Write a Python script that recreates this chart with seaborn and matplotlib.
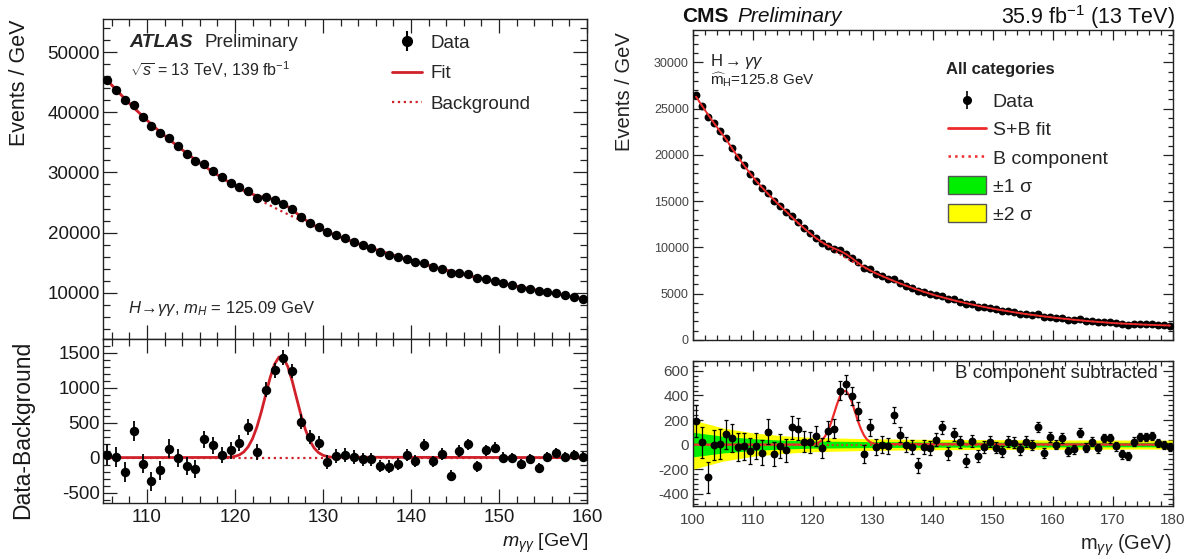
import numpy as np
import pandas as pd
import matplotlib
matplotlib.use("Agg")
import matplotlib.pyplot as plt
import seaborn as sns
from matplotlib.lines import Line2D
from matplotlib.patches import Patch
from matplotlib.legend_handler import HandlerTuple
from matplotlib.ticker import MultipleLocator

# ---------------- ATLAS (left) ----------------
atlas_mass = np.arange(105.5, 160.0, 1.0)
atlas_data = [45340, 43746, 42026, 41148, 39275, 37660, 36559, 35649, 34340, 33080,
              31940, 31337, 30261, 29167, 28304, 27515, 26911, 25753, 25864, 25383,
              24830, 23939, 22535, 21656, 20936, 20040, 19553, 19013, 18443, 17884,
              17375, 16805, 16332, 15917, 15615, 15105, 14918, 14282, 14002, 13308,
              13295, 13042, 12389, 12289, 12008, 11550, 11234, 10851, 10632, 10224,
              10110, 9878, 9544, 9303, 9010]
atlas_bkg = [45300, 43736, 42226, 40768, 39360, 38000, 36739, 35519, 34340, 33200,
             32100, 31077, 30086, 29127, 28199, 27300, 26471, 25668, 24889, 24133,
             23400, 22699, 22020, 21361, 20721, 20100, 19528, 18973, 18433, 17909,
             17400, 16925, 16462, 16012, 15575, 15150, 14738, 14337, 13947, 13568,
             13200, 12852, 12514, 12184, 11863, 11550, 11244, 10946, 10657, 10374,
             10100, 9813, 9534, 9263, 9000]
atlas_resid = [40, 10, -200, 380, -85, -340, -180, 130, 0, -120,
               -160, 260, 175, 40, 105, 215, 440, 85, 975, 1250,
               1430, 1240, 515, 295, 215, -60, 25, 40, 10, -25,
               -25, -120, -130, -95, 40, -45, 180, -55, 55, -260,
               95, 190, -125, 105, 145, 0, -10, -95, -25, -150,
               10, 65, 10, 40, 10]
atlas_err = [149, 146, 144, 141, 139, 136, 134, 132, 130, 128,
             125, 123, 121, 119, 118, 116, 114, 112, 110, 109,
             107, 105, 104, 102, 101, 99, 98, 96, 95, 94,
             92, 91, 90, 89, 87, 86, 85, 84, 83, 82,
             80, 79, 78, 77, 76, 75, 74, 73, 72, 71,
             70, 69, 68, 67, 66]
# signal part of the fit at bin centres 119.5 ... 130.5
atlas_sig_centres = [7, 39, 155, 441, 905, 1338, 1429, 1100, 611, 245, 71, 15]
atlas_sig_first_bin = 14
# fit curve in the lower panel
atlas_fit_x = [105, 119, 119.5, 120, 120.5, 121, 121.5, 122, 122.5, 123, 123.5, 124, 124.5,
               125, 125.5, 126, 126.5, 127, 127.5, 128, 128.5, 129, 129.5, 130, 130.5, 131, 160]
atlas_fit_y = [0, 3, 7, 18, 39, 81, 155, 272, 441, 658, 905, 1146, 1338,
               1441, 1429, 1306, 1100, 854, 611, 403, 245, 137, 71, 34, 15, 6, 0]

# ---------------- CMS (right) ----------------
cms_mass = np.arange(100.5, 180.0, 1.0)
cms_data = [26495, 25328, 24088, 23434, 22555, 21785, 20769, 19753, 18860, 17968,
            17190, 16417, 15900, 15061, 14494, 13855, 13404, 12788, 12104, 11547,
            11070, 10507, 10193, 9784, 9683, 9340, 8887, 8424, 7745, 7644,
            7180, 6912, 6620, 6610, 6195, 5870, 5618, 5246, 5182, 4972,
            4840, 4764, 4384, 4375, 4152, 3850, 3868, 3607, 3550, 3468,
            3295, 3154, 3126, 3012, 2857, 2825, 2708, 2768, 2476, 2532,
            2390, 2375, 2197, 2146, 2217, 2035, 2032, 1926, 1961, 1907,
            1795, 1697, 1649, 1737, 1746, 1710, 1697, 1619, 1582, 1540]
cms_bkg = [26300, 25308, 24353, 23434, 22550, 21700, 20714, 19773, 18875, 18018,
           17200, 16482, 15795, 15136, 14504, 13900, 13264, 12658, 12079, 11527,
           11000, 10532, 10083, 9654, 9243, 8850, 8492, 8149, 7820, 7504,
           7200, 6912, 6635, 6370, 6115, 5870, 5638, 5416, 5202, 4997,
           4800, 4624, 4454, 4290, 4132, 3980, 3838, 3702, 3570, 3443,
           3320, 3209, 3101, 2997, 2897, 2800, 2713, 2628, 2546, 2467,
           2390, 2320, 2252, 2186, 2122, 2060, 2007, 1956, 1906, 1857,
           1810, 1777, 1744, 1712, 1681, 1650, 1627, 1604, 1582, 1560]
cms_resid = [195, 20, -265, 0, 5, 85, 55, -20, -15, -50,
             -10, -65, 105, -75, -10, -45, 140, 130, 25, 20,
             70, -25, 110, 130, 440, 490, 395, 275, -75, 140,
             -20, 0, -15, 240, 80, 0, -20, -170, -20, -25,
             40, 140, -70, 85, 20, -130, 30, -95, -20, 25,
             -25, -55, 25, 15, -40, 25, -5, 140, -70, 65,
             0, 55, -55, -40, 95, -25, 25, -30, 55, 50,
             -15, -80, -95, 25, 65, 60, 70, 15, 0, -20]
cms_err = [130, 127, 125, 122, 120, 118, 115, 112, 110, 107,
           105, 103, 101, 98, 96, 94, 92, 90, 88, 86,
           84, 82, 80, 79, 77, 75, 74, 72, 71, 69,
           68, 67, 65, 64, 63, 61, 60, 59, 58, 57,
           55, 54, 53, 52, 51, 50, 50, 49, 48, 47,
           46, 45, 45, 44, 43, 42, 42, 41, 40, 40,
           39, 39, 38, 37, 37, 36, 36, 35, 35, 34,
           34, 34, 33, 33, 33, 32, 32, 32, 32, 32]
# signal part of the S+B fit at bin centres 121.5 ... 130.5
cms_sig_centres = [36, 113, 251, 394, 437, 343, 190, 75, 21, 4]
cms_sig_first_bin = 21
cms_fit_x = [100, 120, 120.5, 121, 121.5, 122, 122.5, 123, 123.5, 124, 124.5, 125,
             125.5, 126, 126.5, 127, 127.5, 128, 128.5, 129, 129.5, 130, 130.5, 180]
cms_fit_y = [0, 0, 8, 18, 36, 67, 113, 176, 251, 328, 394, 433,
             437, 404, 343, 267, 190, 125, 75, 41, 21, 10, 4, 0]
cms_band_x = [100, 105, 110, 115, 120, 130, 140, 150, 160, 170, 180]
cms_band_1sig = [100, 68, 48, 36, 29, 24, 21, 20, 19, 18, 18]
cms_band_2sig = [200, 135, 95, 72, 58, 47, 42, 40, 38, 37, 36]

# ---------------- style ----------------
sns.set_theme(style="ticks")
plt.rcParams['font.family'] = ['Liberation Sans', 'DejaVu Sans']
plt.rcParams['mathtext.fontset'] = 'custom'
plt.rcParams['mathtext.rm'] = 'Liberation Sans'
plt.rcParams['mathtext.it'] = 'Liberation Sans:italic'
plt.rcParams['mathtext.bf'] = 'Liberation Sans:bold'
plt.rcParams['axes.unicode_minus'] = False

RED_A = '#d0202a'
RED_C = '#ee2b2b'

fig = plt.figure(figsize=(11.93, 5.6), dpi=100)
ax1 = fig.add_axes([0.0863, 0.3946, 0.4057, 0.5714])
ax2 = fig.add_axes([0.0863, 0.1018, 0.4057, 0.2929])
ax3 = fig.add_axes([0.5809, 0.3929, 0.4023, 0.5536])
ax4 = fig.add_axes([0.5809, 0.0964, 0.4023, 0.2589])


def root_style(ax, maj, mnr, lsize, xmaj, xmin, ymaj, ymin, lcolor='#1a1a1a', pad=3):
    ax.xaxis.set_major_locator(MultipleLocator(xmaj))
    ax.xaxis.set_minor_locator(MultipleLocator(xmin))
    ax.yaxis.set_major_locator(MultipleLocator(ymaj))
    ax.yaxis.set_minor_locator(MultipleLocator(ymin))
    ax.tick_params(axis='both', which='both', direction='in', top=True, right=True,
                   labelsize=lsize, width=0.9, color='#222222', labelcolor=lcolor, pad=pad)
    ax.tick_params(which='major', length=maj)
    ax.tick_params(which='minor', length=mnr)
    for sp in ax.spines.values():
        sp.set_linewidth(1.0)
        sp.set_color('#222222')
    ax.set_xlabel('')
    ax.set_ylabel('')


# ---------------- ATLAS main ----------------
atlas_fit_main = list(atlas_bkg)
for i, v in enumerate(atlas_sig_centres):
    atlas_fit_main[atlas_sig_first_bin + i] += v
dfa = pd.DataFrame({'mass': atlas_mass, 'events': atlas_data, 'err': atlas_err,
                    'bkg': atlas_bkg, 'fit': atlas_fit_main, 'resid': atlas_resid})

sns.lineplot(data=dfa, x='mass', y='bkg', ax=ax1, color=RED_A, lw=1.6, linestyle=':',
             estimator=None, sort=False, zorder=2)
sns.lineplot(data=dfa, x='mass', y='fit', ax=ax1, color=RED_A, lw=2.0,
             estimator=None, sort=False, zorder=2)
ax1.errorbar(dfa['mass'], dfa['events'], yerr=dfa['err'], fmt='none', ecolor='black',
             elinewidth=1.3, zorder=3)
sns.scatterplot(data=dfa, x='mass', y='events', ax=ax1, color='black', s=46,
                linewidth=0, zorder=4, legend=False)
ax1.set_xlim(105, 160)
ax1.set_ylim(2300, 55500)
root_style(ax1, 10, 5, 13.5, 10, 2, 10000, 2000, pad=2)
ax1.tick_params(labelbottom=False)

ax1.text(0.055, 0.926, 'ATLAS', transform=ax1.transAxes, fontsize=14,
         fontweight='bold', fontstyle='italic', va='center', ha='left')
ax1.text(0.209, 0.926, 'Preliminary', transform=ax1.transAxes, fontsize=13.5,
         va='center', ha='left')
ax1.text(0.055, 0.841, r'$\sqrt{s}$ = 13 TeV, 139 fb$^{-1}$', transform=ax1.transAxes,
         fontsize=11.5, va='center', ha='left')
ax1.text(0.051, 0.095, r'$H\!\rightarrow\!\gamma\gamma$, $m_H$ = 125.09 GeV',
         transform=ax1.transAxes, fontsize=12, va='center', ha='left')

h_data_a = (Line2D([], [], marker='|', ms=15, mew=1.5, color='black', ls='none'),
            Line2D([], [], marker='o', ms=7, color='black', ls='none'))
h_fit_a = Line2D([], [], color=RED_A, lw=2.0)
h_bkg_a = Line2D([], [], color=RED_A, lw=1.6, ls=':')
ax1.legend([h_data_a, h_fit_a, h_bkg_a], ['Data', 'Fit', 'Background'],
           handler_map={tuple: HandlerTuple(ndivide=1)}, loc='upper left',
           bbox_to_anchor=(0.598, 0.952), frameon=False, fontsize=13.5,
           handlelength=1.6, handletextpad=0.45, labelspacing=0.72,
           borderpad=0, borderaxespad=0)

# ---------------- ATLAS residual ----------------
ax2.axhline(0, color=RED_A, lw=1.6, ls=':', zorder=1)
sns.lineplot(x=atlas_fit_x, y=atlas_fit_y, ax=ax2, color=RED_A, lw=2.0,
             estimator=None, sort=False, zorder=2)
ax2.errorbar(dfa['mass'], dfa['resid'], yerr=dfa['err'], fmt='none', ecolor='black',
             elinewidth=1.3, zorder=3)
sns.scatterplot(data=dfa, x='mass', y='resid', ax=ax2, color='black', s=46,
                linewidth=0, zorder=4, legend=False)
ax2.set_xlim(105, 160)
ax2.set_ylim(-650, 1700)
root_style(ax2, 10, 5, 13.5, 10, 2, 500, 100, pad=2)
ax2.tick_params(axis='x', pad=4)

fig.text(20 / 1193, 1 - 20 / 560, 'Events / GeV', rotation=90, ha='center', va='top',
         fontsize=15.5, color='#1a1a1a')
fig.text(23 / 1193, 1 - 430 / 560, 'Data-Background', rotation=90, ha='center',
         va='center', fontsize=16.5, color='#1a1a1a')
fig.text(588 / 1193, 1 - 543 / 560, r'$m_{\gamma\gamma}$ [GeV]', ha='right', va='center',
         fontsize=14, color='#1a1a1a')

# ---------------- CMS main ----------------
cms_fit_main = list(cms_bkg)
for i, v in enumerate(cms_sig_centres):
    cms_fit_main[cms_sig_first_bin + i] += v
dfc = pd.DataFrame({'mass': cms_mass, 'events': cms_data, 'err': cms_err,
                    'bkg': cms_bkg, 'fit': cms_fit_main, 'resid': cms_resid})

ax3.errorbar(dfc['mass'], dfc['events'], yerr=dfc['err'], fmt='none', ecolor='black',
             elinewidth=1.0, zorder=2)
sns.scatterplot(data=dfc, x='mass', y='events', ax=ax3, color='black', s=32,
                linewidth=0, zorder=3, legend=False)
sns.lineplot(data=dfc, x='mass', y='bkg', ax=ax3, color=RED_C, lw=1.3, linestyle=':',
             estimator=None, sort=False, zorder=4)
sns.lineplot(data=dfc, x='mass', y='fit', ax=ax3, color=RED_C, lw=1.3,
             estimator=None, sort=False, zorder=4)
ax3.set_xlim(100, 180)
ax3.set_ylim(0, 33500)
root_style(ax3, 7, 3.5, 9, 10, 2, 5000, 1000, lcolor='#444444', pad=3)
ax3.tick_params(labelbottom=False)

ax3.text(0.035, 0.897, r'H$\rightarrow\gamma\gamma$', transform=ax3.transAxes,
         fontsize=12, va='center', ha='left', color='#222222')
ax3.text(0.035, 0.839, r'$\widehat{\mathrm{m}}_{\mathrm{H}}$=125.8 GeV',
         transform=ax3.transAxes, fontsize=11, va='center', ha='left', color='#222222')
ax3.text(0.527, 0.871, 'All categories', transform=ax3.transAxes, fontsize=12,
         fontweight='bold', va='center', ha='left', color='#222222')

h_data_c = (Line2D([], [], marker='|', ms=13, mew=1.2, color='black', ls='none'),
            Line2D([], [], marker='o', ms=5.5, color='black', ls='none'))
h_fit_c = Line2D([], [], color=RED_C, lw=2.0)
h_bkg_c = Line2D([], [], color=RED_C, lw=1.8, ls=':')
h_1s = Patch(facecolor='#00ee00', edgecolor='#555555', lw=1.0)
h_2s = Patch(facecolor='#ffff00', edgecolor='#555555', lw=1.0)
ax3.legend([h_data_c, h_fit_c, h_bkg_c, h_1s, h_2s],
           ['Data', 'S+B fit', 'B component', '\u00b11 \u03c3', '\u00b12 \u03c3'],
           handler_map={tuple: HandlerTuple(ndivide=1)}, loc='upper left',
           bbox_to_anchor=(0.531, 0.800), frameon=False, fontsize=14,
           handlelength=1.95, handleheight=1.0, handletextpad=0.36, labelspacing=0.45,
           borderpad=0, borderaxespad=0)

# ---------------- CMS residual ----------------
ax4.fill_between(cms_band_x, [-v for v in cms_band_2sig], cms_band_2sig,
                 color='#ffff00', lw=0, zorder=1)
ax4.fill_between(cms_band_x, [-v for v in cms_band_1sig], cms_band_1sig,
                 color='#00ee00', lw=0, zorder=1)
ax4.axhline(0, color=RED_C, lw=1.3, ls=':', zorder=2)
sns.lineplot(x=cms_fit_x, y=cms_fit_y, ax=ax4, color=RED_C, lw=1.6,
             estimator=None, sort=False, zorder=2)
ax4.errorbar(dfc['mass'], dfc['resid'], yerr=dfc['err'], fmt='none', ecolor='black',
             elinewidth=0.9, capsize=1.5, capthick=0.9, zorder=3)
sns.scatterplot(data=dfc, x='mass', y='resid', ax=ax4, color='black', s=32,
                linewidth=0, zorder=4, legend=False)
ax4.set_xlim(100, 180)
ax4.set_ylim(-500, 680)
root_style(ax4, 7, 3.5, 11, 10, 2, 200, 40, lcolor='#444444', pad=3)
ax4.tick_params(axis='x', pad=5)
ax4.text(0.969, 0.913, 'B component subtracted', transform=ax4.transAxes, fontsize=13.5,
         ha='right', va='center', color='#222222')

fig.text(682 / 1193, 1 - 17 / 560, 'CMS', fontsize=15, fontweight='bold', ha='left',
         va='center', color='#111111')
fig.text(737 / 1193, 1 - 17 / 560, 'Preliminary', fontsize=15, fontstyle='italic',
         ha='left', va='center', color='#111111')
fig.text(1175 / 1193, 1 - 17 / 560, r'35.9 fb$^{-1}$ (13 TeV)', fontsize=15.5,
         ha='right', va='center', color='#111111')
fig.text(625 / 1193, 1 - 32 / 560, 'Events / GeV', rotation=90, ha='center', va='top',
         fontsize=14.5, color='#222222')
fig.text(1172 / 1193, 1 - 545 / 560, r'm$_{\gamma\gamma}$ (GeV)', ha='right',
         va='center', fontsize=14.5, color='#222222')

fig.savefig('out.png', dpi=100, facecolor='white')
